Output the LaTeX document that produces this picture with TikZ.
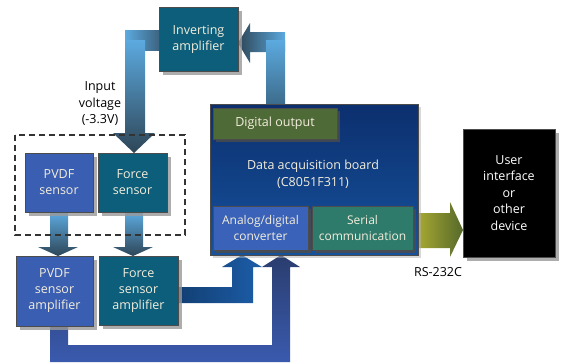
\documentclass[tikz,border=0pt]{standalone}
\usepackage{fontspec}
\setmainfont{Open Sans}
\usetikzlibrary{shadows}
\definecolor{teal1}{HTML}{0D5E7A}
\definecolor{blue1}{HTML}{3A5EB2}
\definecolor{olive1}{HTML}{4E6A36}
\definecolor{serialc}{HTML}{2F7B6B}
\definecolor{adcc}{HTML}{3A62B8}
\definecolor{txt}{HTML}{F4EEDD}
\definecolor{lb}{HTML}{5CAAE0}
\definecolor{db}{HTML}{2E4657}
\definecolor{mb}{HTML}{3D6C8C}
\definecolor{ab1}{HTML}{1C5DA8}
\definecolor{ab2}{HTML}{123F73}
\definecolor{pb1}{HTML}{3A5AAE}
\definecolor{pb2}{HTML}{2A3D6E}
\definecolor{gr1}{HTML}{A6A832}
\definecolor{gr2}{HTML}{55692A}
\definecolor{brd1}{HTML}{0C2F6E}
\definecolor{brd2}{HTML}{16529C}
\tikzset{
  box/.style={draw=black!70, line width=0.4pt, text=txt, align=center, font=\fontsize{12.5}{16}\selectfont,
    inner sep=1pt, drop shadow={shadow xshift=4pt, shadow yshift=-4pt, fill=black!40, opacity=0.8}},
  inbox/.style={draw=black!70, line width=0.4pt, text=txt, align=center, font=\fontsize{12.5}{16}\selectfont,
    inner sep=1pt, drop shadow={shadow xshift=3pt, shadow yshift=-3pt, fill=black!70, opacity=0.8}},
  lbl/.style={align=center, font=\fontsize{12.5}{16.5}\selectfont, text=black},
}
\begin{document}
\begin{tikzpicture}[x=1pt,y=-1pt]
\useasboundingbox (0,0) rectangle (562,362);
% ---- arrows (behind) ----
% board -> inverting amplifier
\shade[left color=db, right color=lb] (285,32) -- (250,32) -- (250,23) -- (238,43) -- (250,63) -- (250,52) -- (285,52) -- cycle;
\shade[top color=lb, bottom color=mb] (266,40) -- (285,40) -- (285,104) -- (266,104) -- cycle;
% inverting amplifier -> force sensor
\shade[left color=lb, right color=db!70!lb] (159,30) -- (125,30) -- (125,50) -- (159,50) -- cycle;
\shade[top color=lb, bottom color=db] (125,40) -- (125,133) -- (113,133) -- (134,153) -- (155,133) -- (145,133) -- (145,40) -- cycle;
% sensors -> amplifiers
\shade[top color=lb, bottom color=db] (50,212) -- (50,247) -- (38,247) -- (58,256) -- (78,247) -- (68,247) -- (68,212) -- cycle;
\shade[top color=lb, bottom color=db] (125,212) -- (125,247) -- (113,247) -- (133,256) -- (153,247) -- (143,247) -- (143,212) -- cycle;
% PVDF amp -> board
\shade[top color=pb2, bottom color=pb1] (50,326) -- (50,362) -- (290,362) -- (290,267) -- (300,267) -- (281,255) -- (262,267) -- (272,267) -- (272,345) -- (68,345) -- (68,326) -- cycle;
% force amp -> board
\shade[left color=ab2, right color=ab1] (178,287) -- (232,287) -- (232,267) -- (222,267) -- (242,255) -- (262,267) -- (253,267) -- (253,303) -- (178,303) -- cycle;
% serial -> user interface
\shade[left color=gr1, right color=gr2] (418,213) -- (450,213) -- (450,202) -- (463,230) -- (450,257) -- (450,248) -- (418,248) -- cycle;

% ---- boxes ----
\node[box, fill=teal1, minimum width=79pt, minimum height=64pt] (inv) at (198.5,39) {Inverting\\amplifier};
\node[lbl] (vin) at (100,104) {Input\\voltage\\(-3.3V)};
\draw[dashed, line width=1.2pt, dash pattern=on 6pt off 4pt, black!80] (15,135) rectangle (185,235);
\node[box, fill=blue1, minimum width=68pt, minimum height=59pt] (pvdfs) at (59,182.5) {PVDF\\sensor};
\node[box, fill=teal1, minimum width=69pt, minimum height=59pt] (forces) at (132.5,182.5) {Force\\sensor};
\node[box, fill=blue1, minimum width=77pt, minimum height=70pt] (pvdfa) at (54.5,291) {PVDF\\sensor\\amplifier};
\node[box, fill=teal1, minimum width=79pt, minimum height=69pt] (forcea) at (138.5,290.5) {Force\\sensor\\amplifier};
\node[draw=black!70, top color=brd1, bottom color=brd2, minimum width=208pt, minimum height=151pt,
  drop shadow={shadow xshift=3pt, shadow yshift=-3pt, fill=black!30}] (board) at (314,179.5) {};
\node[lbl, text=txt, font=\fontsize{12.5}{17}\selectfont] (boardt) at (313,174.5) {Data acquisition board\\(C8051F311)};
\node[inbox, fill=olive1, minimum width=124pt, minimum height=31pt] (dout) at (275,123.5) {Digital output};
\node[inbox, fill=adcc, minimum width=95pt, minimum height=44pt, font=\fontsize{12}{16}\selectfont] (adc) at (260.5,228) {Analog/digital\\converter};
\node[inbox, fill=serialc, minimum width=101pt, minimum height=44pt, font=\fontsize{12}{16}\selectfont] (serial) at (362.5,228) {Serial\\communication};
\node[box, fill=black, minimum width=92pt, minimum height=128pt, text=white,
  font=\fontsize{12.5}{16.5}\selectfont] (user) at (509,193) {User\\interface\\or\\other\\device};
\node[lbl] (rs) at (438,272) {RS-232C};
\end{tikzpicture}
\end{document}
